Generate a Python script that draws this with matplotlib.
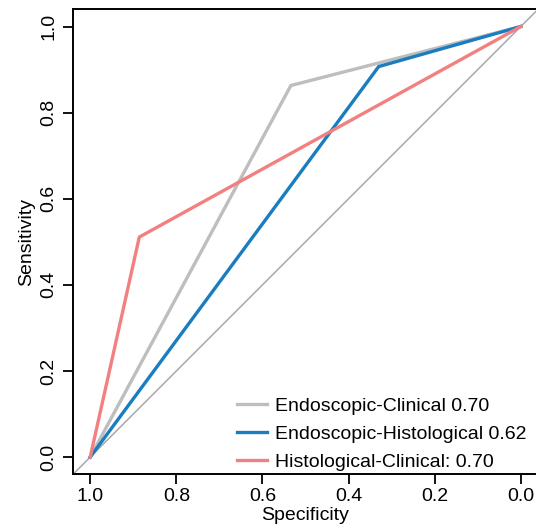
import matplotlib
matplotlib.use("Agg")
import matplotlib.pyplot as plt

plt.rcParams['font.family'] = ['Liberation Sans', 'DejaVu Sans']

# Data (specificity, sensitivity)
endo_clin_spec = [1.0, 0.534, 0.0]
endo_clin_sens = [0.0, 0.863, 1.0]
endo_hist_spec = [1.0, 0.33, 0.0]
endo_hist_sens = [0.0, 0.907, 1.0]
hist_clin_spec = [1.0, 0.886, 0.0]
hist_clin_sens = [0.0, 0.511, 1.0]
labels = ["Endoscopic-Clinical 0.70", "Endoscopic-Histological 0.62", "Histological-Clinical: 0.70"]
colors = ["#BEBEBE", "#1A7DC0", "#F28080"]
ticks = [1.0, 0.8, 0.6, 0.4, 0.2, 0.0]
tick_labels = ["1.0", "0.8", "0.6", "0.4", "0.2", "0.0"]

fig = plt.figure(figsize=(5.36, 5.31), dpi=100)
ax = fig.add_axes([73/536, 56.7/531, (538-73)/536, (521.7-56.7)/531])
ax.set_xlim(1.04, -0.04)
ax.set_ylim(-0.04, 1.04)

ax.axline((1.0, 0.0), (0.0, 1.0), color="#A8A8A8", lw=1.1, zorder=1)

series = [(endo_clin_spec, endo_clin_sens), (endo_hist_spec, endo_hist_sens), (hist_clin_spec, hist_clin_sens)]
for (sx, sy), c, lab in zip(series, colors, labels):
    ax.plot(sx, sy, color=c, lw=2.4, label=lab, solid_joinstyle='miter', zorder=2)

ax.set_xticks(ticks)
ax.set_xticklabels(tick_labels)
ax.set_yticks(ticks)
ax.set_yticklabels(tick_labels, rotation=90, va='center')
ax.tick_params(axis='both', direction='out', length=7, width=1.3, labelsize=14, pad=3)
ax.tick_params(axis='y', pad=4)
for s in ['left', 'bottom', 'top']:
    ax.spines[s].set_linewidth(1.4)
ax.spines['right'].set_visible(False)

ax.set_xlabel("Specificity", fontsize=14, labelpad=1)
ax.set_ylabel("Sensitivity", fontsize=14, labelpad=4)

leg = ax.legend(loc='lower left', bbox_to_anchor=(237/536, (531-471)/531), bbox_transform=fig.transFigure,
                frameon=False, fontsize=14, handlelength=1.55, handletextpad=0.4,
                borderpad=0.0, borderaxespad=0.0, labelspacing=0.53)

fig.savefig("out.png", dpi=100)
